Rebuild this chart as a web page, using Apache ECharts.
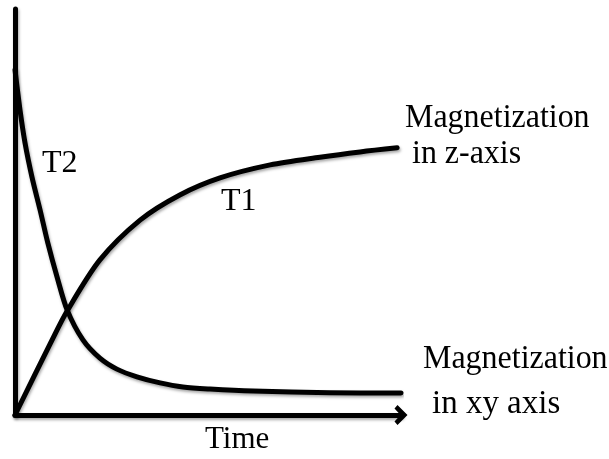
<!DOCTYPE html>
<html>
<head>
<meta charset="utf-8">
<script src="https://cdn.jsdelivr.net/npm/echarts@6/dist/echarts.min.js"></script>
<style>
  html, body { margin: 0; padding: 0; background: #fff; }
  #main { width: 609px; height: 459px; }
</style>
</head>
<body>
<div id="main"></div>
<script>
// 曲线数据 (time, magnetization)
const t1Time = [0, 9.1, 13.5, 22.0, 32.4, 42.7, 53.1, 66.1, 79.0, 89.4, 99.0]
const t1Value = [0, 17.5, 25.6, 38.2, 48.0, 54.2, 58.4, 61.6, 63.5, 64.8, 65.8]
const t2Time = [0, 1.3, 2.6, 4.4, 6.5, 8.5, 10.9, 13.5, 17.6, 22.0, 26.4, 31.6, 37.6, 43.5, 50.5, 61.7, 81.6, 100]
const t2Value = [85.0, 75.1, 67.0, 58.6, 50.5, 42.4, 34.0, 25.9, 18.5, 14.0, 11.3, 9.4, 7.9, 6.9, 6.4, 5.9, 5.5, 5.4]

const serif = "'Liberation Serif', 'DejaVu Serif', serif"
const shadow = {
  shadowColor: 'rgba(0,0,0,0.35)',
  shadowBlur: 3,
  shadowOffsetX: 1,
  shadowOffsetY: 2
}
const lineStyle = Object.assign({ color: '#000', width: 5, cap: 'round', join: 'round' }, shadow)

// 文字标签
const label = (text, x, y, size, sx) => ({
  type: 'text',
  x: x,
  y: y,
  scaleX: sx || 1,
  style: {
    text: text,
    fontFamily: serif,
    fontSize: size,
    fill: '#000',
    align: 'left',
    verticalAlign: 'middle'
  }
})

const myChart = echarts.init(document.getElementById('main'))
const option = {
  animation: false,
  grid: { left: 15, top: 9, width: 386, height: 406 },
  xAxis: {
    type: 'value',
    min: 0,
    max: 100,
    axisLine: {
      show: true,
      symbol: ['none', 'path://M0,10 L10,0 L20,10 L16.5,13 L10,7 L3.5,13 Z'],
      symbolSize: [20, 22],
      lineStyle: Object.assign({ color: '#000', width: 5 }, shadow)
    },
    axisTick: { show: false },
    axisLabel: { show: false },
    splitLine: { show: false }
  },
  yAxis: {
    type: 'value',
    min: 0,
    max: 100,
    axisLine: {
      show: true,
      lineStyle: Object.assign({ color: '#000', width: 5 }, shadow)
    },
    axisTick: { show: false },
    axisLabel: { show: false },
    splitLine: { show: false }
  },
  series: [
    {
      name: 'T1',
      type: 'line',
      smooth: 0.3,
      showSymbol: false,
      data: t1Time.map((t, i) => [t, t1Value[i]]),
      lineStyle: lineStyle
    },
    {
      name: 'T2',
      type: 'line',
      smooth: 0.3,
      showSymbol: false,
      data: t2Time.map((t, i) => [t, t2Value[i]]),
      lineStyle: lineStyle
    }
  ],
  graphic: [
    label('T2', 42, 164, 32),
    label('T1', 221, 202, 32),
    label('Magnetization', 405, 118, 34, 0.94),
    label('in z-axis', 412, 154, 34, 0.94),
    label('Magnetization', 423, 359, 34, 0.94),
    label('in xy axis', 432, 404, 34, 0.97),
    label('Time', 205, 440, 31)
  ]
}
myChart.setOption(option)
</script>
</body>
</html>
